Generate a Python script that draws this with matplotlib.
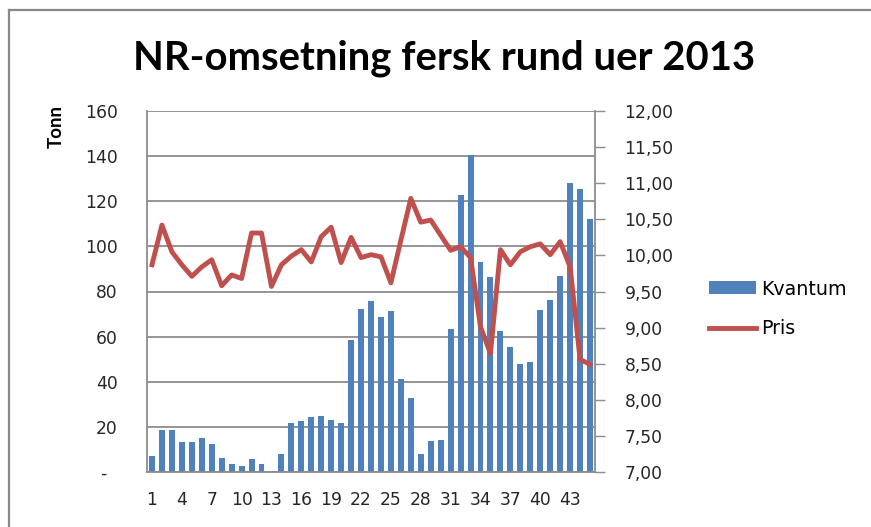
import matplotlib
matplotlib.use("Agg")
import matplotlib.pyplot as plt
from matplotlib.lines import Line2D
from matplotlib.patches import Patch

weeks = list(range(1, 46))
kvantum = [7.3, 18.6, 18.6, 13.4, 13.4, 15.1, 12.6, 6.2, 3.7, 2.7,
           5.8, 3.7, 0.0, 7.8, 21.7, 22.7, 24.2, 24.8, 23.2, 21.7,
           58.3, 72.2, 75.7, 68.9, 71.4, 41.2, 32.8, 8.1, 13.9, 14.3,
           63.3, 122.7, 140.7, 93.0, 86.3, 62.7, 55.5, 47.8, 48.7, 72.0,
           76.1, 86.9, 127.9, 125.4, 112.1]
pris = [9.87, 10.42, 10.05, 9.87, 9.71, 9.84, 9.94, 9.58, 9.73, 9.68,
        10.31, 10.31, 9.57, 9.87, 9.99, 10.08, 9.91, 10.26, 10.39, 9.90,
        10.25, 9.97, 10.01, 9.98, 9.62, 10.21, 10.79, 10.46, 10.49, 10.28,
        10.07, 10.12, 9.97, 9.01, 8.64, 10.08, 9.87, 10.05, 10.12, 10.16,
        10.01, 10.19, 9.84, 8.56, 8.49]
left_ticks = [0, 20, 40, 60, 80, 100, 120, 140, 160]
left_labels = ["-  ", "20", "40", "60", "80", "100", "120", "140", "160"]
right_ticks = [7.0, 7.5, 8.0, 8.5, 9.0, 9.5, 10.0, 10.5, 11.0, 11.5, 12.0]
xtick_weeks = list(range(1, 46, 3))

title = "NR-omsetning fersk rund uer 2013"
ylabel = "Tonn"
legend_labels = ["Kvantum", "Pris"]

BLUE = "#4F81BD"
RED = "#C0504D"
GRID = "#8C8C8C"
TXT = "#262626"
TICKFONT = ['DejaVu Sans']
TITLEFONT = ['Lato', 'DejaVu Sans']
NARROW = ['Liberation Sans Narrow', 'Lato', 'DejaVu Sans']

plt.rcParams['font.family'] = TICKFONT

fig = plt.figure(figsize=(8.71, 5.27), dpi=100)
W, H = 871, 527
ax = fig.add_axes([147 / W, 1 - 472 / H, (595 - 147) / W, (472 - 111) / H])
ax2 = ax.twinx()

ax.bar(weeks, kvantum, width=0.6, color=BLUE, zorder=2)
ax.set_xlim(0.5, 45.5)
ax.set_ylim(0, 160)
ax.set_yticks(left_ticks)
ax.set_yticklabels(left_labels)
ax.set_xticks(xtick_weeks)
ax.set_xticklabels([str(w) for w in xtick_weeks])
ax.yaxis.grid(True, color=GRID, linewidth=1.3, zorder=0)
ax.set_axisbelow(True)
ax.tick_params(axis='y', length=0, labelsize=12.3, pad=21, labelcolor=TXT)
ax.tick_params(axis='x', length=0, labelsize=12.3, pad=14, labelcolor=TXT)
for s in ['top', 'right']:
    ax.spines[s].set_visible(False)
ax.spines['left'].set_color(GRID)
ax.spines['left'].set_linewidth(1.3)
ax.spines['bottom'].set_color(GRID)
ax.spines['bottom'].set_linewidth(1.3)

fig.text(56 / W, 1 - 127 / H, ylabel, fontsize=13.5, fontweight='bold', rotation=90,
         ha='center', va='center', family=NARROW, color='black')

ax2.plot(weeks, pris, color=RED, linewidth=3.5, solid_joinstyle='round', zorder=3)
ax2.set_ylim(7.0, 12.0)
ax2.set_yticks(right_ticks)
ax2.set_yticklabels([f"{v:.2f}".replace(".", ",") for v in right_ticks])
ax2.tick_params(axis='y', length=7.2, width=1.0, color=GRID, labelsize=12.3, pad=14, labelcolor=TXT)
for s in ['top', 'left', 'bottom']:
    ax2.spines[s].set_visible(False)
ax2.spines['right'].set_color(GRID)
ax2.spines['right'].set_linewidth(1.3)

fig.text(444 / W, 1 - 58 / H, title, fontsize=28.8, fontweight='bold', ha='center', va='center',
         family=TITLEFONT)

handles = [Patch(facecolor=BLUE, edgecolor='none'),
           Line2D([0], [0], color=RED, linewidth=3.5)]
fig.legend(handles, legend_labels, loc='center left', bbox_to_anchor=(709 / W, 1 - 309 / H),
           frameon=False, fontsize=13.7, handlelength=2.47, handleheight=0.66,
           labelspacing=1.1, handletextpad=0.27, borderpad=0, borderaxespad=0)

# outer frame lines (top and left)
fig.add_artist(Line2D([9 / W, 1], [1 - 10 / H, 1 - 10 / H], color="#888888", linewidth=1.6))
fig.add_artist(Line2D([9 / W, 9 / W], [0, 1 - 10 / H], color="#888888", linewidth=1.6))

fig.savefig("out.png", dpi=100)
